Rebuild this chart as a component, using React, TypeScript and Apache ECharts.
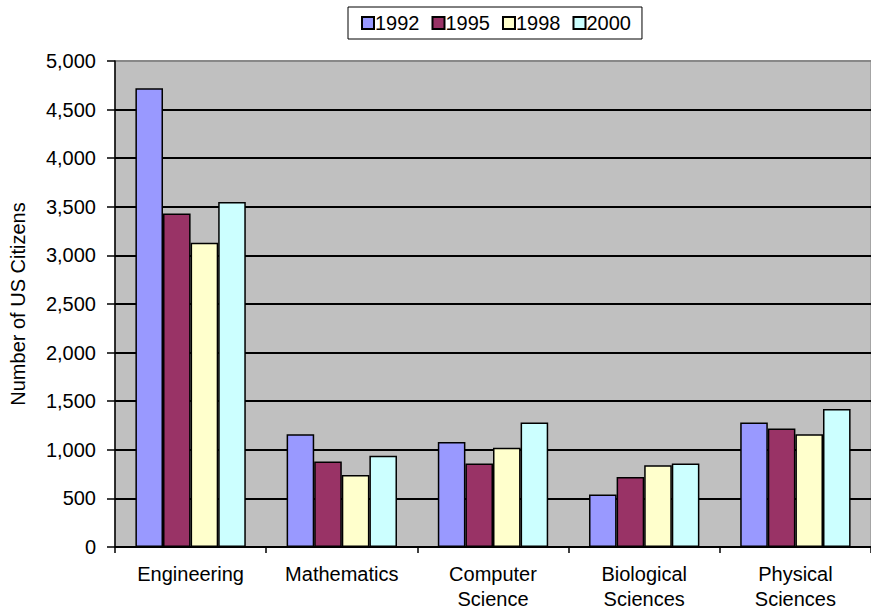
import React, { useEffect, useRef } from "react";
import * as echarts from "echarts";

const categories = ["Engineering", "Mathematics", "Computer\nScience", "Biological\nSciences", "Physical\nSciences"];
const years = ["1992", "1995", "1998", "2000"];
const values1992 = [4720, 1160, 1080, 540, 1280];
const values1995 = [3430, 880, 860, 720, 1220];
const values1998 = [3130, 740, 1020, 840, 1160];
const values2000 = [3550, 940, 1280, 860, 1420];
const yTicks = [0, 500, 1000, 1500, 2000, 2500, 3000, 3500, 4000, 4500, 5000];

const colors = ["#9999ff", "#993366", "#ffffcc", "#ccffff"];
const allValues = [values1992, values1995, values1998, values2000];

export default function App() {
  const ref = useRef<HTMLDivElement>(null);
  useEffect(() => {
    if (!ref.current) return;
    const chart = echarts.init(ref.current, undefined, { renderer: "svg" });
    const font = "'Liberation Sans', Arial, Helvetica, sans-serif";
    chart.setOption({
      animation: false,
      backgroundColor: "#ffffff",
      textStyle: { fontFamily: font },
      legend: {
        data: years,
        left: 348,
        top: 7,
        padding: [6, 11, 6, 13],
        borderColor: "#000",
        borderWidth: 1,
        itemWidth: 12,
        itemHeight: 12,
        itemGap: 12,
        icon: "rect",
        textStyle: {
          fontFamily: font,
          fontSize: 20,
          color: "#000",
          padding: [0, 0, 0, -4],
        },
      },
      grid: {
        left: 111,
        right: 0,
        top: 61,
        bottom: 64,
        show: true,
        backgroundColor: "#c0c0c0",
        borderColor: "#888888",
        borderWidth: 1,
      },
      xAxis: {
        type: "category",
        data: categories,
        axisLine: { lineStyle: { color: "#000", width: 1.5 } },
        axisTick: { show: true, length: 6, lineStyle: { color: "#000", width: 1.5 } },
        axisLabel: {
          color: "#000",
          fontSize: 20,
          lineHeight: 25,
          margin: 14,
          fontFamily: font,
        },
      },
      yAxis: {
        type: "value",
        min: yTicks[0],
        max: yTicks[yTicks.length - 1],
        interval: 500,
        name: "Number of US Citizens",
        nameLocation: "middle",
        nameGap: 87,
        nameRotate: 90,
        nameTextStyle: { color: "#000", fontSize: 20, fontFamily: font },
        axisLine: { show: true, lineStyle: { color: "#000", width: 1.5 } },
        axisTick: { show: true, length: 8, lineStyle: { color: "#000", width: 1.5 } },
        axisLabel: {
          color: "#000",
          fontSize: 20,
          margin: 19,
          fontFamily: font,
          formatter: (v: number) => v.toLocaleString("en-US"),
        },
        splitLine: {
          show: true,
          lineStyle: {
            color: ["#000", "#000", "#000", "#000", "#000", "#000", "#000", "#000", "#000", "#000", "#888"],
            width: 1.8,
          },
        },
      },
      series: years.map((y, i) => ({
        name: y,
        type: "bar",
        data: allValues[i],
        barGap: "0%",
        barCategoryGap: "27%",
        itemStyle: { color: colors[i], borderColor: "#000", borderWidth: 1.5 },
      })),
    });
    return () => chart.dispose();
  }, []);
  return <div ref={ref} style={{ position: "fixed", left: 0, top: 0, width: 871, height: 611 }} />;
}
